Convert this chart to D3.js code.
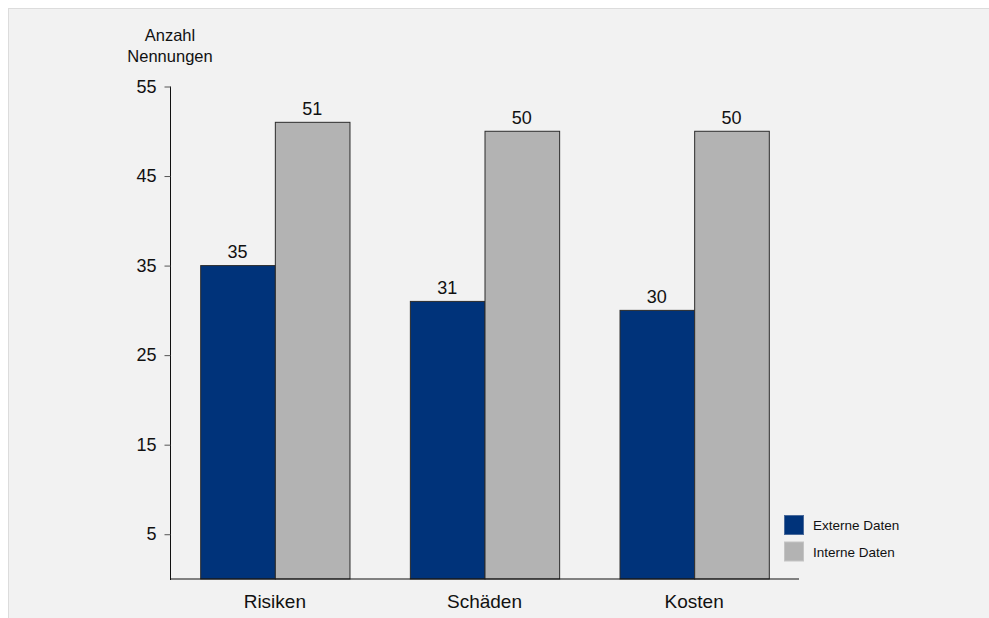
<!DOCTYPE html>
<html>
<head>
<meta charset="utf-8">
<script src="https://cdn.jsdelivr.net/npm/d3@7"></script>
<style>
  html, body { margin: 0; padding: 0; background: #ffffff; }
  svg { display: block; font-family: "Liberation Sans", Arial, Helvetica, sans-serif; }
</style>
</head>
<body>
<svg id="chart" width="989" height="618"></svg>
<script>
// Nennungen je Kategorie, getrennt nach Datenquelle
const categories = ["Risiken", "Schäden", "Kosten"];
const seriesNames = ["Externe Daten", "Interne Daten"];
const externeDaten = [35, 31, 30];
const interneDaten = [51, 50, 50];
const yTicks = [5, 15, 25, 35, 45, 55];

const colors = ["#00337a", "#b3b3b3"];
const seriesValues = [externeDaten, interneDaten];

const svg = d3.select("#chart");
const W = 989, H = 618;

// Hintergrundfläche
svg.append("rect")
  .attr("x", 8.5).attr("y", 8.5)
  .attr("width", W).attr("height", H)
  .attr("fill", "#f2f2f2")
  .attr("stroke", "#dcdcdc")
  .attr("stroke-width", 1);

const plot = { left: 170, right: 799, top: 86, bottom: 578.5 };

const x = d3.scaleBand()
  .domain(categories)
  .range([plot.left, plot.right])
  .paddingInner(0.288)
  .paddingOuter(0.144);

const xs = d3.scaleBand()
  .domain(seriesNames)
  .range([0, x.bandwidth()]);

const y = d3.scaleLinear()
  .domain([0, 55])
  .range([plot.bottom, plot.top]);

// Balken
const groups = svg.append("g").selectAll("g")
  .data(categories)
  .join("g")
  .attr("transform", d => `translate(${x(d)},0)`);

groups.selectAll("rect")
  .data((c, i) => seriesNames.map((s, k) => ({ s, k, v: seriesValues[k][i] })))
  .join("rect")
  .attr("x", d => xs(d.s) + 0.5)
  .attr("y", d => y(d.v) + 0.5)
  .attr("width", xs.bandwidth())
  .attr("height", d => y(0) - y(d.v))
  .attr("fill", d => colors[d.k])
  .attr("stroke", "#2b2b2b")
  .attr("stroke-width", 1);

groups.selectAll("text")
  .data((c, i) => seriesNames.map((s, k) => ({ s, k, v: seriesValues[k][i] })))
  .join("text")
  .attr("x", d => xs(d.s) + xs.bandwidth() / 2)
  .attr("y", d => y(d.v) - 7)
  .attr("text-anchor", "middle")
  .attr("font-size", 18)
  .attr("fill", "#111")
  .text(d => d.v);

// Y-Achse
const yAxis = d3.axisLeft(y).tickValues(yTicks).tickSize(6).tickPadding(8);
const gy = svg.append("g")
  .attr("transform", `translate(${plot.left + 0.5},0.5)`)
  .call(yAxis);
gy.select(".domain").attr("d", `M0,${y(55)}V${plot.bottom + 1}`).attr("stroke", "#111");
gy.selectAll(".tick line").attr("stroke", "#555");
gy.selectAll(".tick text").attr("font-size", 18).attr("fill", "#111")
  .attr("font-family", "'Liberation Sans', Arial, sans-serif");

// X-Achse
const xAxis = d3.axisBottom(x).tickSize(0).tickPadding(16);
const gx = svg.append("g")
  .attr("transform", `translate(0,${plot.bottom + 0.5})`)
  .call(xAxis);
gx.select(".domain").attr("d", `M${plot.left},0H${plot.right}`).attr("stroke", "#111");
gx.selectAll(".tick text").attr("font-size", 19).attr("fill", "#111")
  .attr("font-family", "'Liberation Sans', Arial, sans-serif");

// Achsentitel
const title = svg.append("text")
  .attr("text-anchor", "middle")
  .attr("font-size", 16.5)
  .attr("fill", "#111");
title.append("tspan").attr("x", 170).attr("y", 41).text("Anzahl");
title.append("tspan").attr("x", 170).attr("y", 61.5).text("Nennungen");

// Legende
const legend = svg.append("g").attr("transform", "translate(784,515)");
const items = legend.selectAll("g")
  .data(seriesNames)
  .join("g")
  .attr("transform", (d, i) => `translate(0,${i * 26.5})`);
items.append("rect")
  .attr("x", 0.5).attr("y", 0.5)
  .attr("width", 19).attr("height", 19)
  .attr("fill", (d, i) => colors[i])
  .attr("stroke", (d, i) => i === 0 ? "#4a6a9a" : "#c4c4c4")
  .attr("stroke-width", 1);
items.append("text")
  .attr("x", 29).attr("y", 15)
  .attr("font-size", 13.5)
  .attr("fill", "#111")
  .text(d => d);
</script>
</body>
</html>
